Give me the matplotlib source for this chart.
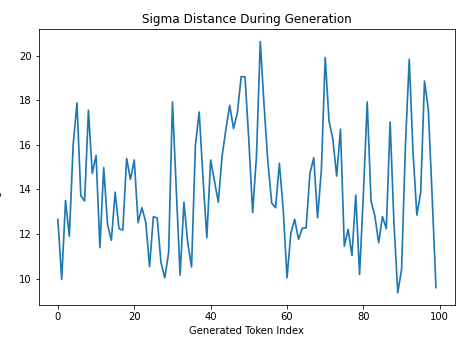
import numpy as np
import matplotlib
matplotlib.use("Agg")
import matplotlib.pyplot as plt

# sigma distance per generated token
sigma_dist = [12.65, 9.97, 13.5, 11.9, 16.0, 17.88, 13.72, 13.48, 17.55, 14.72,
              15.52, 11.39, 14.98, 12.43, 11.72, 13.88, 12.24, 12.18, 15.39, 14.45,
              15.32, 12.51, 13.18, 12.54, 10.54, 12.78, 12.72, 10.72, 10.04, 11.17,
              17.92, 14.0, 10.16, 13.43, 11.61, 10.52, 15.95, 17.47, 14.5, 11.84,
              15.32, 14.38, 13.43, 15.5, 16.7, 17.77, 16.73, 17.44, 19.06, 19.04,
              16.2, 12.96, 15.5, 20.63, 17.74, 15.2, 13.38, 13.18, 15.17, 13.1,
              10.04, 12.03, 12.66, 11.76, 12.26, 12.28, 14.72, 15.42, 12.73, 14.9,
              19.91, 17.07, 16.25, 14.6, 16.7, 11.46, 12.21, 11.04, 13.75, 10.19,
              13.8, 17.92, 13.48, 12.81, 11.61, 12.78, 12.24, 17.02, 12.5, 9.37,
              10.42, 15.95, 19.83, 15.65, 12.85, 13.86, 18.86, 17.59, 13.7, 9.6]
token_idx = np.arange(len(sigma_dist))

# the reference looks like a default 100 dpi figure shrunk to ~72%, so draw at 72 dpi
fig = plt.figure(figsize=(456 / 72, 343 / 72), dpi=72)
ax = fig.add_axes([0.0855, 0.11, 0.912, 0.8055])
ax.plot(token_idx, sigma_dist, color="tab:blue", linewidth=1.7)
ax.set_title("Sigma Distance During Generation")
ax.set_xlabel("Generated Token Index")
ax.set_ylabel("Sigma Distance")
# in the reference the y label sits almost entirely past the left edge,
# only its baseline side peeks in
ax.yaxis.set_label_coords(-0.09, 0.5)
ax.set_yticks([10, 12, 14, 16, 18, 20])
ax.set_xticks([0, 20, 40, 60, 80, 100])

fig.savefig("out.png", dpi=72)
